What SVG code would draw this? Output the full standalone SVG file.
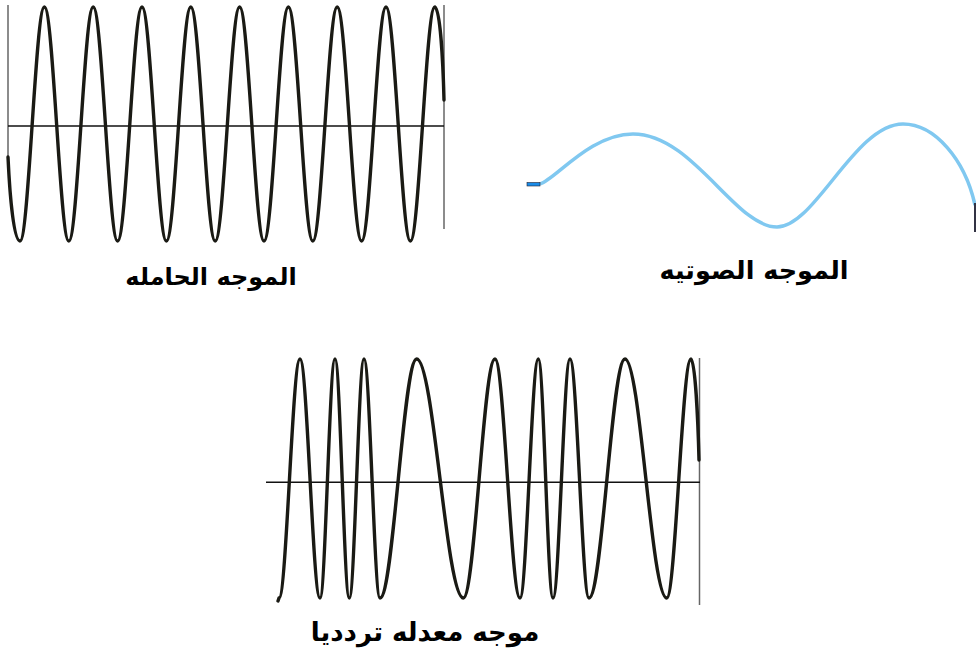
<svg xmlns="http://www.w3.org/2000/svg" width="976" height="655" viewBox="0 0 976 655">
<style>
.wave{fill:none;stroke:#1a1a14;stroke-width:3.4;stroke-linejoin:round;stroke-linecap:round}
.axis{stroke:#111;stroke-width:1.5}
.edge{stroke:#666;stroke-width:1.5}
.audio{fill:none;stroke:#80c8f0;stroke-width:3.5;stroke-linecap:butt}
.lbl{font-family:"DejaVu Sans","Noto Sans",sans-serif;font-weight:bold;font-size:24px;fill:#000;text-anchor:middle}
</style>
<rect width="976" height="655" fill="#fff"/>
<g id="carrier">
<line class="edge" x1="8" y1="5" x2="8" y2="157"/>
<line class="edge" x1="444" y1="5" x2="444" y2="229"/>
<line class="axis" x1="8" y1="126" x2="444" y2="126"/>
<path class="wave" d="M 8 157 C 10 200 14 241 20 241 C 28.89 241 35.51 7 44.4 7 S 59.91 241 68.8 241 S 84.31 7 93.2 7 S 108.71 241 117.6 241 S 133.11 7 142 7 S 157.51 241 166.4 241 S 181.91 7 190.8 7 S 206.31 241 215.2 241 S 230.71 7 239.6 7 S 255.11 241 264 241 S 279.51 7 288.4 7 S 303.91 241 312.8 241 S 328.31 7 337.2 7 S 352.71 241 361.6 241 S 377.11 7 386 7 S 401.51 241 410.4 241 S 425.91 7 434.8 7 C 440 7 443 60 444 100"/>
<text class="lbl" x="211" y="285">الموجه الحامله</text>
</g>
<g id="audio">
<path class="audio" d="M 540 184 C 555 180 590 134 633 134 C 693 134 735 227 777 227 C 815 227 855 124 903 124 C 935 124 965 160 975 205"/>
<rect x="527" y="182.5" width="13" height="3.5" fill="#1a8ce8" stroke="#223" stroke-width="0.6"/>
<line x1="975" y1="203" x2="975" y2="232" stroke="#334" stroke-width="2"/>
<text class="lbl" x="754" y="279" style="font-size:25.5px">الموجه الصوتيه</text>
</g>
<g id="fm">
<line class="edge" x1="699.5" y1="358" x2="699.5" y2="605"/>
<line class="axis" x1="266" y1="482.3" x2="700" y2="482.3"/>
<path class="wave" d="M 278 601 L 279 598 C 286.65 598 292.35 359 300 359 C 307.28 359 312.72 598 320 598 C 325.46 598 329.54 359 335 359 C 340.21 359 344.09 598 349.3 598 C 354.65 598 358.65 359 364 359 C 369.83 359 374.17 598 380 598 C 393.37 598 403.33 359 416.7 359 C 433.67 359 446.33 598 463.3 598 C 474.85 598 483.45 359 495 359 C 504.1 359 510.9 598 520 598 C 526.66 598 531.64 359 538.3 359 C 543.65 359 547.65 598 553 598 C 559.19 598 563.81 359 570 359 C 576.92 359 582.08 598 589 598 C 602.11 598 611.89 359 625 359 C 640.19 359 651.51 598 666.7 598 C 675.55 598 682.15 359 691 359 C 695 359 698 420 699 460"/>
<text class="lbl" x="425" y="641" style="font-size:26px">موجه معدله تردديا</text>
</g>
</svg>
